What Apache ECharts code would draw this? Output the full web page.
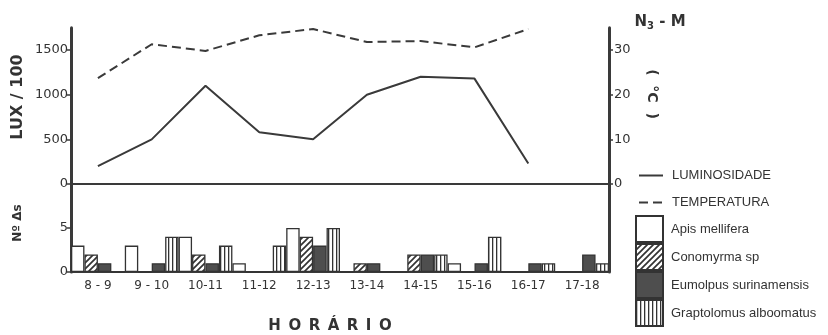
<!DOCTYPE html>
<html><head><meta charset="utf-8">
<script src="https://cdn.jsdelivr.net/npm/echarts@6/dist/echarts.min.js"></script>
<style>html,body{margin:0;padding:0;background:#fff}#c{width:828px;height:335px}</style>
</head><body><div id="c"></div>
<script>
// ---- data ----
const categories = ['8 - 9', '9 - 10', '10-11', '11-12', '12-13', '13-14', '14-15', '15-16', '16-17', '17-18'];
const luminosidade = [200, 500, 1100, 580, 500, 1000, 1200, 1180, 230, null];
const temperatura = [23.7, 31.3, 29.8, 33.3, 34.7, 31.8, 32, 30.6, 34.7, null];
const apis = [3, 3, 4, 1, 5, 0, 0, 1, 0, 0];
const conomyrma = [2, 0, 2, 0, 4, 1, 2, 0, 0, 0];
const eumolpus = [1, 1, 1, 0, 3, 1, 2, 1, 1, 2];
const graptolomus = [0, 4, 3, 3, 5, 0, 2, 4, 1, 1];
const luxTicks = [0, 500, 1000, 1500];
const tempTicks = [0, 10, 20, 30];
const countTicks = [0, 5];

// ---- patterns ----
function hatch() {
  const c = document.createElement('canvas'); c.width = 6; c.height = 6;
  const g = c.getContext('2d');
  g.fillStyle = '#fff'; g.fillRect(0, 0, 6, 6);
  g.strokeStyle = '#333'; g.lineWidth = 1.7; g.beginPath();
  g.moveTo(-1, 7); g.lineTo(7, -1);
  g.moveTo(-1, 1); g.lineTo(1, -1);
  g.moveTo(5, 7); g.lineTo(7, 5);
  g.stroke();
  return c;
}
function vstripe() {
  const c = document.createElement('canvas'); c.width = 4; c.height = 4;
  const g = c.getContext('2d');
  g.fillStyle = '#fff'; g.fillRect(0, 0, 4, 4);
  g.fillStyle = '#333'; g.fillRect(0, 0, 1.3, 4);
  return c;
}

const ink = '#3a3a3a';
const axisFont = 'DejaVu Sans';
const plain = v => String(v);
const chart = echarts.init(document.getElementById('c'), null, { renderer: 'canvas' });
const barBase = { type: 'bar', xAxisIndex: 1, yAxisIndex: 2, barGap: '0%', barCategoryGap: '0%' };
const border = { borderColor: '#333', borderWidth: 1.3 };

chart.setOption({
  animation: false,
  backgroundColor: '#fff',
  textStyle: { fontFamily: axisFont },
  grid: [
    { left: 71, top: 27.7, width: 538, height: 156.3 },
    { left: 71, top: 184, width: 538, height: 88 }
  ],
  xAxis: [
    { gridIndex: 0, type: 'category', data: categories, boundaryGap: true,
      axisLine: { lineStyle: { color: ink, width: 2 } },
      axisTick: { alignWithLabel: true, length: 6, lineStyle: { color: ink, width: 1.5 } },
      axisLabel: { show: false }, splitLine: { show: false } },
    { gridIndex: 1, type: 'category', data: categories, boundaryGap: true,
      axisLine: { lineStyle: { color: ink, width: 2 } },
      axisTick: { length: 4, lineStyle: { color: ink, width: 1.5 } },
      axisLabel: { color: '#333', fontSize: 12, margin: 8, fontFamily: axisFont }, splitLine: { show: false } }
  ],
  yAxis: [
    { gridIndex: 0, type: 'value', min: 0, max: 1750, position: 'left',
      axisLine: { show: true, lineStyle: { color: ink, width: 3 } },
      axisTick: { show: true, length: 4, customValues: luxTicks, lineStyle: { color: ink, width: 1.5 } },
      axisLabel: { customValues: luxTicks, formatter: plain, color: '#333', fontSize: 13, margin: 3 },
      splitLine: { show: false } },
    { gridIndex: 0, type: 'value', min: 0, max: 35, position: 'right',
      axisLine: { show: true, lineStyle: { color: ink, width: 3 } },
      axisTick: { show: true, length: 4, customValues: tempTicks, lineStyle: { color: ink, width: 1.5 } },
      axisLabel: { customValues: tempTicks, formatter: plain, color: '#333', fontSize: 13, margin: 5 },
      splitLine: { show: false } },
    { gridIndex: 1, type: 'value', min: 0, max: 10, position: 'left',
      axisLine: { show: true, lineStyle: { color: ink, width: 3 } },
      axisTick: { show: true, length: 4, customValues: countTicks, lineStyle: { color: ink, width: 1.5 } },
      axisLabel: { customValues: countTicks, formatter: plain, color: '#333', fontSize: 13, margin: 3 },
      splitLine: { show: false } },
    { gridIndex: 1, type: 'value', min: 0, max: 10, position: 'right',
      axisLine: { show: true, lineStyle: { color: ink, width: 3 } },
      axisTick: { show: false }, axisLabel: { show: false }, splitLine: { show: false } }
  ],
  legend: [
    { data: ['LUMINOSIDADE', 'TEMPERATURA'], orient: 'vertical', left: 638, top: 169, padding: 0,
      itemWidth: 24, itemHeight: 12, itemGap: 14, itemStyle: { opacity: 0 },
      textStyle: { fontFamily: 'Liberation Sans', fontSize: 13, color: '#333', padding: [0, 0, 0, 4] } },
    { data: ['Apis mellifera', 'Conomyrma sp', 'Eumolpus surinamensis', 'Graptolomus alboomatus'],
      orient: 'vertical', left: 635, top: 215, height: 115, padding: 0, icon: 'rect',
      itemWidth: 27, itemHeight: 26, itemGap: 0,
      textStyle: { fontFamily: 'Liberation Sans', fontSize: 13, color: '#333', padding: [0, 0, 0, 3] } }
  ],
  graphic: [
    { type: 'text', x: 18, y: 97, rotation: Math.PI / 2,
      style: { text: 'LUX / 100', font: 'bold 16px "DejaVu Sans"', fill: '#333', align: 'center', verticalAlign: 'middle' } },
    { type: 'text', x: 18, y: 223, rotation: Math.PI / 2,
      style: { text: 'Nº Δs', font: 'bold 12px "DejaVu Sans"', fill: '#333', align: 'center', verticalAlign: 'middle' } },
    { type: 'text', x: 652, y: 94, rotation: -Math.PI / 2,
      style: { text: '(  °C  )', font: 'bold 14px "DejaVu Sans"', fill: '#333', align: 'center', verticalAlign: 'middle' } },
    { type: 'text', x: 330, y: 326,
      style: { text: 'H\u2002O\u2002R\u2002Á\u2002R\u2002I\u2002O', font: 'bold 15px "DejaVu Sans"', fill: '#333', align: 'center', verticalAlign: 'middle' } },
    { type: 'text', x: 660, y: 22,
      style: { text: '{n|N}{s|3}{n| - M}', align: 'center', verticalAlign: 'middle',
        rich: { n: { font: 'bold 15px "DejaVu Sans"', fill: '#333' }, s: { font: 'bold 10px "DejaVu Sans"', fill: '#333', padding: [8, 0, 0, 0] } } } }
  ],
  series: [
    { name: 'LUMINOSIDADE', type: 'line', xAxisIndex: 0, yAxisIndex: 0, data: luminosidade,
      symbol: 'none', lineStyle: { color: ink, width: 2 }, itemStyle: { color: ink } },
    { name: 'TEMPERATURA', type: 'line', xAxisIndex: 0, yAxisIndex: 1, data: temperatura,
      symbol: 'none', lineStyle: { color: ink, width: 2, type: [9, 5] }, itemStyle: { color: ink } },
    Object.assign({ name: 'Apis mellifera', data: apis, itemStyle: Object.assign({ color: '#fff' }, border) }, barBase),
    Object.assign({ name: 'Conomyrma sp', data: conomyrma, itemStyle: Object.assign({ color: { image: hatch(), repeat: 'repeat' } }, border) }, barBase),
    Object.assign({ name: 'Eumolpus surinamensis', data: eumolpus, itemStyle: Object.assign({ color: '#4e4e4e' }, border) }, barBase),
    Object.assign({ name: 'Graptolomus alboomatus', data: graptolomus, itemStyle: Object.assign({ color: { image: vstripe(), repeat: 'repeat' } }, border) }, barBase)
  ]
});
</script></body></html>
